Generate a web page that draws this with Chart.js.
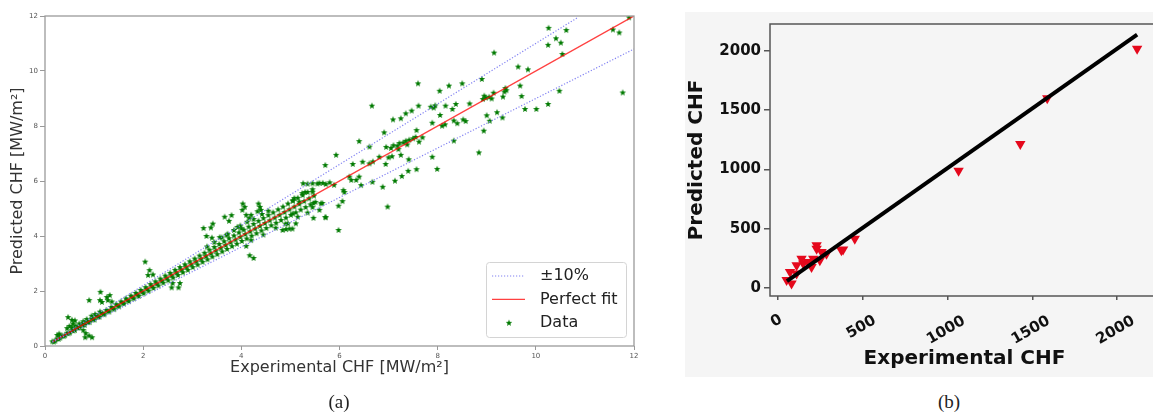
<!DOCTYPE html>
<html>
<head>
<meta charset="utf-8">
<script src="https://cdn.jsdelivr.net/npm/chart.js@4.4.1/dist/chart.umd.min.js"></script>
<style>
  html, body { margin: 0; padding: 0; background: #fff; }
  body { width: 1153px; height: 418px; position: relative; overflow: hidden; }
  #chartA { position: absolute; left: 0; top: 0; }
  #panelB { position: absolute; left: 685px; top: 12px; width: 468px; height: 365px; background: #f5f5f5; overflow: hidden; }
  #chartB { position: absolute; left: 0; top: 0; }
  .cap { position: absolute; font-family: "Liberation Serif", serif; font-size: 19px; color: #222; transform: translate(-50%, -50%); }
</style>
</head>
<body>
<canvas id="chartA" width="680" height="418"></canvas>
<div id="panelB"><canvas id="chartB" width="480" height="365"></canvas></div>
<div class="cap" style="left:339px; top:402px;">(a)</div>
<div class="cap" style="left:949px; top:402px;">(b)</div>
<script>
// ---- (a) experimental vs predicted CHF [MW/m2] ----
// dense band along the diagonal
var bandExp = [
  0.15,0.18,0.21, 0.25,0.28,0.31, 0.35,0.38,0.41, 0.45,0.48,0.51, 0.55,0.58,0.61, 0.65,0.68,0.71,
  0.75,0.78,0.81, 0.85,0.88,0.91, 0.95,0.98,1.01, 1.05,1.08,1.11, 1.15,1.18,1.21, 1.25,1.28,1.31,
  1.35,1.38,1.41, 1.45,1.48,1.51, 1.55,1.58,1.61, 1.65,1.68,1.71, 1.75,1.78,1.81, 1.85,1.88,1.91,
  1.95,1.98,2.01, 2.05,2.08,2.11, 2.15,2.18,2.21, 2.25,2.28,2.31, 2.35,2.38,2.41, 2.45,2.48,2.51,
  2.55,2.58,2.61, 2.65,2.68,2.71, 2.75,2.78,2.81, 2.85,2.88,2.91, 2.95,2.98,3.01, 3.05,3.08,3.11,
  3.15,3.18,3.21, 3.25,3.28,3.31, 3.35,3.38,3.41, 3.45,3.48,3.51, 3.55,3.58,3.61, 3.65,3.68,3.71,
  3.75,3.78,3.81, 3.85,3.88,3.91, 3.95,3.98,4.01, 4.05,4.08,4.11, 4.15,4.18,4.21, 4.25,4.28,4.31,
  4.35,4.38,4.41, 4.45,4.48,4.51, 4.55,4.58,4.61, 4.65,4.68,4.71, 4.75,4.78,4.81, 4.85,4.88,4.91,
  4.95,4.98,5.01, 5.05,5.08,5.11, 5.15,5.18,5.21, 5.25,5.28,5.31, 5.35,5.38,5.41, 5.45,5.48,5.51
];
var bandPred = [
  0.17,0.16,0.19, 0.27,0.26,0.30, 0.38,0.36,0.39, 0.48,0.46,0.49, 0.59,0.56,0.58, 0.69,0.66,0.68,
  0.80,0.77,0.77, 0.90,0.87,0.87, 1.00,0.97,0.96, 1.11,1.07,1.06, 1.21,1.17,1.15, 1.31,1.27,1.25,
  1.42,1.37,1.34, 1.52,1.47,1.44, 1.62,1.57,1.54, 1.73,1.67,1.63, 1.83,1.77,1.73, 1.93,1.87,1.82,
  2.04,1.97,1.92, 2.14,2.07,2.01, 2.25,2.17,2.11, 2.35,2.27,2.20, 2.45,2.37,2.30, 2.56,2.47,2.39,
  2.66,2.57,2.49, 2.77,2.67,2.58, 2.87,2.77,2.68, 2.97,2.87,2.77, 3.08,2.97,2.87, 3.18,3.07,2.96,
  3.29,3.17,3.06, 3.39,3.27,3.15, 3.50,3.37,3.25, 3.60,3.47,3.34, 3.71,3.57,3.44, 3.81,3.67,3.53,
  3.92,3.77,3.63, 4.02,3.87,3.72, 4.13,3.97,3.82, 4.23,4.07,3.91, 4.34,4.17,4.01, 4.44,4.27,4.10,
  4.55,4.37,4.20, 4.65,4.47,4.29, 4.76,4.57,4.39, 4.86,4.67,4.48, 4.97,4.77,4.58, 5.07,4.87,4.67,
  5.18,4.97,4.77, 5.28,5.07,4.86, 5.39,5.17,4.96, 5.49,5.27,5.05, 5.60,5.37,5.15, 5.70,5.47,5.24
];
// scattered points
var sprayExp = [
  10.26,10.62,10.41,10.51,10.25,10.54,9.15,11.57,11.70,11.90,
  11.77,9.64,9.84,9.68,10.48,10.25,10.01,9.78,9.71,8.90,
  8.50,8.23,8.04,7.60,6.66,8.92,8.98,9.05,9.10,8.95,
  9.38,9.40,9.36,9.14,9.33,8.65,8.37,8.16,8.30,7.86,
  7.92,7.95,7.61,7.47,7.35,7.25,7.09,8.05,7.89,8.09,
  8.15,8.33,8.40,8.52,8.57,8.33,8.94,9.00,9.06,9.21,
  9.32,8.84,7.57,7.69,7.89,7.99,7.57,7.40,7.27,7.13,
  6.88,6.40,6.61,6.91,5.93,5.71,6.95,7.05,7.10,7.18,
  7.22,7.30,7.35,7.42,7.50,7.55,7.20,7.38,6.27,6.47,
  6.61,6.68,6.81,7.00,7.07,6.20,6.24,6.34,6.40,6.08,
  6.10,5.59,5.66,5.72,5.89,7.62,6.94,7.25,7.41,6.67,
  6.44,6.98,5.98,5.72,5.98,5.59,6.06,5.26,5.35,5.45,
  5.55,5.80,5.24,5.30,5.45,5.08,5.05,5.18,5.45,5.47,
  5.65,5.47,5.71,5.11,4.35,4.38,4.40,4.33,4.03,4.07,
  4.02,4.10,4.20,4.16,3.66,3.80,3.75,3.92,4.00,3.23,
  3.38,3.42,3.29,3.40,3.56,3.70,4.17,4.25,4.10,4.84,
  4.91,4.98,5.04,4.95,5.62,5.05,2.04,2.13,2.10,2.20,
  2.60,2.75,2.58,2.72,1.13,0.90,1.12,1.16,1.26,1.32,
  1.28,1.36,1.12,0.83,0.90,0.96,0.82,0.78,0.55,0.57,
  0.50,0.45,0.29,0.31,0.25,0.47,0.61,0.55,0.62,0.70,
  0.78,0.85,0.95,1.02,3.30,3.45,3.60,3.72,3.85,3.98,
  4.12,4.25,4.42,4.55,4.20,4.45,4.70,4.90,5.15,5.35
];
var sprayPred = [
  11.57,11.49,11.19,11.03,10.95,10.62,10.67,11.51,11.40,11.95,
  9.22,10.16,10.06,9.47,9.28,8.80,8.62,8.62,9.09,9.71,
  9.55,9.47,9.28,9.55,8.74,8.98,9.03,9.06,9.00,9.10,
  9.38,9.30,9.25,9.21,9.07,8.82,8.80,8.74,8.62,8.70,
  8.67,8.75,8.74,8.56,8.46,8.28,8.24,8.40,8.12,8.01,
  8.06,8.20,8.10,8.24,8.18,7.47,7.83,8.39,8.19,8.50,
  8.31,7.04,7.85,7.59,6.88,6.44,6.43,6.37,6.18,6.01,
  5.79,7.45,7.25,7.77,6.95,6.58,7.24,7.20,7.30,7.28,
  7.38,7.40,7.46,7.50,7.55,7.60,7.16,7.33,6.62,6.70,
  6.64,6.71,6.88,6.86,6.90,6.16,6.04,6.04,6.16,5.67,
  5.60,5.93,5.93,5.89,5.86,7.43,6.62,6.95,6.79,5.97,
  5.85,5.07,4.22,4.68,5.10,4.95,5.27,5.92,5.90,5.92,
  5.91,5.95,5.56,5.60,5.61,5.38,5.30,5.25,5.05,5.20,
  5.20,4.66,4.69,4.46,5.18,5.06,4.95,4.90,5.18,5.06,
  4.95,4.77,4.77,4.65,4.70,4.76,4.55,4.33,4.28,4.29,
  4.31,4.45,4.00,3.94,3.96,4.04,3.30,3.20,3.64,4.22,
  4.25,4.27,4.27,4.46,5.19,4.82,3.07,2.76,2.58,2.60,
  2.29,2.29,2.13,2.13,1.97,1.67,1.67,1.60,1.78,1.85,
  1.67,1.62,1.25,0.47,0.38,0.32,0.32,0.58,0.95,0.82,
  0.73,0.65,0.45,0.36,0.40,1.05,0.93,0.68,0.74,0.82,
  0.90,0.98,1.10,1.16,3.62,3.78,3.95,4.08,4.22,4.38,
  4.52,4.62,4.80,4.92,3.85,4.05,4.30,4.45,4.70,4.85
];
var fitX = [0.15, 12], fitY = [0.15, 12];
var upperX = [0.15, 10.85], upperY = [0.165, 11.94];
var lowerX = [0.15, 12], lowerY = [0.135, 10.8];
var ticksA = [0, 2, 4, 6, 8, 10, 12];

// ---- (b) ----
var expB = [2118, 1588, 1429, 1065, 453, 384, 51, 80, 71, 110, 110, 149, 139, 178, 198, 208, 228, 228, 257, 247, 286, 374];
var predB = [2018, 1600, 1214, 988, 416, 324, 67, 39, 136, 123, 192, 206, 248, 220, 178, 248, 332, 360, 304, 234, 290, 318];
var lineBX = [53, 2118], lineBY = [59, 2136];
var ticksB = [0, 500, 1000, 1500, 2000];

function pts(xs, ys) {
  return xs.map(function (x, i) { return { x: x, y: ys[i] }; });
}
function fixedTicks(list) {
  return function (s) { s.ticks = list.map(function (v) { return { value: v }; }); };
}

// filled star marker like matplotlib '*'
var star = document.createElement('canvas');
star.width = 8; star.height = 8;
(function () {
  var c = star.getContext('2d');
  c.fillStyle = '#007a00';
  c.beginPath();
  for (var i = 0; i < 10; i++) {
    var r = i % 2 ? 1.45 : 3.4;
    var a = -Math.PI / 2 + i * Math.PI / 5;
    c.lineTo(4 + r * Math.cos(a), 4.2 + r * Math.sin(a));
  }
  c.closePath();
  c.fill();
})();

var framePlugin = {
  id: 'frame',
  afterDraw: function (chart, args, o) {
    var ctx = chart.ctx, a = chart.chartArea;
    ctx.save();
    ctx.strokeStyle = o.color;
    ctx.lineWidth = o.width;
    ctx.strokeRect(a.left, a.top, a.right - a.left, a.bottom - a.top);
    ctx.restore();
  }
};

var boxLegend = {
  id: 'boxLegend',
  afterDraw: function (chart, args, o) {
    if (!o.show) return;
    var ctx = chart.ctx, a = chart.chartArea;
    var x1 = a.right - o.right - o.width, y1 = a.bottom - o.bottom - o.height;
    ctx.save();
    ctx.fillStyle = 'rgba(255,255,255,0.85)';
    ctx.strokeStyle = '#d4d4d4';
    ctx.lineWidth = 1;
    ctx.beginPath();
    if (ctx.roundRect) ctx.roundRect(x1 + 0.5, y1 + 0.5, o.width, o.height, 3);
    else ctx.rect(x1 + 0.5, y1 + 0.5, o.width, o.height);
    ctx.fill(); ctx.stroke();
    ctx.font = '16px "DejaVu Sans"';
    ctx.textBaseline = 'middle';
    var row = 0;
    chart.data.datasets.forEach(function (ds) {
      if (!ds.label) return;
      var y = y1 + 14 + row * 23.4;
      if (ds.showLine) {
        ctx.strokeStyle = ds.borderColor;
        ctx.lineWidth = ds.borderWidth;
        ctx.setLineDash(ds.borderDash || []);
        ctx.beginPath(); ctx.moveTo(x1 + 6, y); ctx.lineTo(x1 + 39, y); ctx.stroke();
        ctx.setLineDash([]);
      } else {
        ctx.drawImage(ds.pointStyle, x1 + 19, y - 4);
      }
      ctx.fillStyle = '#222';
      ctx.fillText(ds.label, x1 + 54, y);
      row++;
    });
    ctx.restore();
  }
};

// rotated x labels centred on the tick and top-aligned, as matplotlib lays them out
function centreRotatedLabels(s) {
  s._getXAxisLabelAlignment = function () { return 'center'; };
  s._computeLabelItems = function (area) {
    var items = Chart.Scale.prototype._computeLabelItems.call(this, area);
    var ctx = this.ctx;
    ctx.save();
    ctx.font = 'bold 15px "DejaVu Sans"';
    items.forEach(function (it) {
      var w = ctx.measureText(String(it.label)).width;
      it.options.translation[1] += w * 0.3;
    });
    ctx.restore();
    return items;
  };
}

new Chart(document.getElementById('chartA'), {
  type: 'scatter',
  data: {
    datasets: [
      { label: '±10%', data: pts(upperX, upperY), showLine: true, borderColor: '#8282f2', borderWidth: 1.2, borderDash: [1.2, 1.8], pointRadius: 0 },
      { label: '', data: pts(lowerX, lowerY), showLine: true, borderColor: '#8282f2', borderWidth: 1.2, borderDash: [1.2, 1.8], pointRadius: 0 },
      { label: 'Perfect fit', data: pts(fitX, fitY), showLine: true, borderColor: 'rgba(255,0,0,0.75)', borderWidth: 1.4, pointRadius: 0 },
      { label: 'Data', data: pts(bandExp.concat(sprayExp), bandPred.concat(sprayPred)), pointStyle: star, pointRadius: 3 }
    ]
  },
  options: {
    responsive: false,
    animation: false,
    layout: { padding: { top: 16, right: 46, bottom: 33, left: 0 } },
    scales: {
      x: {
        type: 'linear', min: 0, max: 12,
        afterBuildTicks: fixedTicks(ticksA),
        ticks: { font: { size: 7, family: 'DejaVu Sans' }, color: '#555', padding: 2, maxRotation: 0 },
        grid: { drawOnChartArea: false, tickLength: 4, color: '#999' },
        border: { display: false },
        title: { display: true, text: 'Experimental CHF [MW/m²]', color: '#333', font: { size: 16, family: 'DejaVu Sans' }, padding: { top: 0, bottom: 8 } },
        afterFit: function (s) { s.height = 39; }
      },
      y: {
        type: 'linear', min: 0, max: 12,
        afterBuildTicks: fixedTicks(ticksA),
        ticks: { font: { size: 7, family: 'DejaVu Sans' }, color: '#555', padding: 2 },
        grid: { drawOnChartArea: false, tickLength: 5, color: '#999' },
        border: { display: false },
        title: { display: true, text: 'Predicted CHF [MW/m²]', color: '#333', font: { size: 16, family: 'DejaVu Sans' }, padding: { top: 8, bottom: 0 } },
        afterFit: function (s) { s.width = 45; }
      }
    },
    plugins: {
      legend: { display: false },
      tooltip: { enabled: false },
      frame: { color: '#9a9a9a', width: 1.3 },
      boxLegend: { show: true, width: 140, height: 75, right: 8, bottom: 9 }
    }
  },
  plugins: [framePlugin, boxLegend]
});

new Chart(document.getElementById('chartB'), {
  type: 'scatter',
  data: {
    datasets: [
      { label: 'fit', data: pts(lineBX, lineBY), showLine: true, borderColor: '#000', borderWidth: 4, pointRadius: 0 },
      { label: 'CHF', data: pts(expB, predB), pointStyle: 'triangle', rotation: 180, pointRadius: 6, backgroundColor: '#e5081c', borderWidth: 0 }
    ]
  },
  options: {
    responsive: false,
    animation: false,
    layout: { padding: { top: 10, right: 5, bottom: 0, left: 0 } },
    scales: {
      x: {
        type: 'linear', min: -47, max: 2247,
        beforeUpdate: centreRotatedLabels,
        afterBuildTicks: fixedTicks(ticksB),
        ticks: { autoSkip: false, minRotation: 30, maxRotation: 30, labelOffset: -1.5, padding: 10,
                 callback: function (v) { return String(v); },
                 font: { size: 15, weight: 'bold', family: 'DejaVu Sans' }, color: '#111' },
        grid: { drawOnChartArea: false, tickLength: 4, color: '#555', lineWidth: 1.5 },
        border: { display: false },
        title: { display: true, text: 'Experimental CHF', color: '#111', font: { size: 20, weight: 'bold', family: 'DejaVu Sans' }, padding: { top: 0, bottom: 6 } },
        afterFit: function (s) { s.height = 81; }
      },
      y: {
        type: 'linear', min: -67, max: 2226,
        afterBuildTicks: fixedTicks(ticksB),
        ticks: { padding: 3, callback: function (v) { return String(v); },
                 font: { size: 15, weight: 'bold', family: 'DejaVu Sans' }, color: '#111' },
        grid: { drawOnChartArea: false, tickLength: 6, color: '#555', lineWidth: 1.5 },
        border: { display: false },
        title: { display: true, text: 'Predicted CHF', color: '#111', font: { size: 20, weight: 'bold', family: 'DejaVu Sans' }, padding: { top: 0, bottom: 0 } },
        afterFit: function (s) { s.width = 85; }
      }
    },
    plugins: {
      legend: { display: false },
      tooltip: { enabled: false },
      frame: { color: '#555', width: 1.5 }
    }
  },
  plugins: [framePlugin]
});
</script>
</body>
</html>
